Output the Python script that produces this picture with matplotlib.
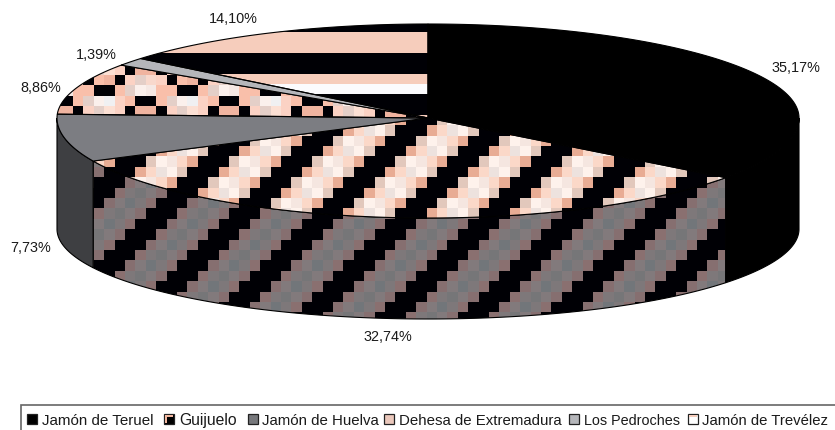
import numpy as np
import matplotlib
matplotlib.use('Agg')
import matplotlib.pyplot as plt
from matplotlib.patches import Polygon, Rectangle

# legend order is also the clockwise order of the slices, starting at 12 o'clock
regions = ['Jamón de Teruel', 'Guijuelo', 'Jamón de Huelva',
           'Dehesa de Extremadura', 'Los Pedroches', 'Jamón de Trevélez']
shares = [35.17, 32.74, 7.73, 8.86, 1.39, 14.10]
share_labels = ['35,17%', '32,74%', '7,73%', '8,86%', '1,39%', '14,10%']

W, H = 835, 430
plt.rcParams['font.family'] = ['Liberation Sans', 'DejaVu Sans']

# pie geometry in pixels
CX, CY = 428, 118
RX = 371
B_BACK, B_FRONT = 94, 100
BOTTOM_Y, BOTTOM_B = 229, 90
CELL = 10.4


def top_edge(a0, a1):
    t = np.radians(np.linspace(a0, a1, 200))
    x = CX + RX * np.sin(t)
    c = np.cos(t)
    y = CY - np.where(c > 0, B_BACK, B_FRONT) * c
    return x, y


def bottom_edge(a0, a1):
    t = np.radians(np.linspace(a0, a1, 200))
    return CX + RX * np.sin(t), BOTTOM_Y - BOTTOM_B * np.cos(t)


def pattern(tile, x0, y0):
    # paint a full size image out of a small pixel tile, like an excel pattern fill
    tile = np.array([[matplotlib.colors.to_rgb(c) for c in row] for row in tile])
    yy, xx = np.mgrid[0:H, 0:W]
    r = ((yy + 0.5 - y0) // CELL).astype(int) % tile.shape[0]
    c = ((xx + 0.5 - x0) // CELL).astype(int) % tile.shape[1]
    return tile[r, c]


def diagonal(even, odd):
    # stripe rising to the right, the jpeg noise changes every other row
    return [[(even if i % 2 == 0 else odd)[(i + j) % 8] for j in range(8)] for i in range(8)]


K = '#000005'
pink_stripe = diagonal(['#E2C8BC', '#FEF2EC', '#F5E6E0', '#FBD8C8', '#E8AC94', K, K, K],
                       ['#E8AC94', '#FBD8C8', '#EDE2DE', '#FEF2EC', '#E2C8BC', K, K, K])
grey_stripe = diagonal(['#866F70', '#827A7C', '#72767A', '#7E787A', '#8A7070', K, K, K],
                       ['#8A7070', '#7E787A', '#767678', '#827A7C', '#866F70', K, K, K])
P, L, D, G, S = '#F9BFAA', '#FBD2C4', '#E4CFC8', '#FBF0EC', '#F0B4A0'
checker = [[L, K, P, S, K, L, D, '#F8D8CC'],
           [P, P, K, K, P, D, G, '#F5E8E4'],
           [P, D, G, '#F0F0F2', L, P, K, K],
           [K, L, D, '#FCE0D4', L, K, S, S]]
P2 = '#F6CDBC'
bars = [[P2], [P2], [K], [K], [P2], ['#FBFBFD'], [K], [K]]

fig = plt.figure(figsize=(W / 100, H / 100), dpi=100)
ax = fig.add_axes([0, 0, 1, 1])
ax.axis('off')

edges = np.cumsum([0] + shares) / sum(shares) * 360

# side walls, only the front half is visible
walls = [(edges[0], edges[1], '#000000', None),
         (edges[1], edges[2], None, grey_stripe),
         (edges[2], edges[3], '#3E3F42', None)]
for a0, a1, color, tile in walls:
    a0 = max(a0, 90)
    a1 = min(a1, 270)
    xt, yt = top_edge(a0, a1)
    xb, yb = bottom_edge(a1, a0)
    pts = np.column_stack([np.r_[xt, xb], np.r_[yt, yb]])
    poly = Polygon(pts, closed=True, fc=color if color else 'none', ec='black', lw=0.8, zorder=2)
    ax.add_patch(poly)
    if tile is not None:
        im = ax.imshow(pattern(tile, 333, 302), extent=(0, W, H, 0), zorder=1.5,
                       interpolation='nearest', aspect='auto')
        im.set_clip_path(poly)

# top faces
faces = ['#000000', pink_stripe, '#7C7D82', checker, '#B5B6BA', bars]
origins = [None, (333, 302), None, (73, 75), None, (428, 32)]
for i, face in enumerate(faces):
    x, y = top_edge(edges[i], edges[i + 1])
    pts = np.column_stack([np.r_[CX, x], np.r_[CY, y]])
    solid = isinstance(face, str)
    poly = Polygon(pts, closed=True, fc=face if solid else 'none', ec='black', lw=0.8, zorder=4)
    ax.add_patch(poly)
    if not solid:
        im = ax.imshow(pattern(face, *origins[i]), extent=(0, W, H, 0), zorder=3.5,
                       interpolation='nearest', aspect='auto')
        im.set_clip_path(poly)

label_xy = [(796, 68), (388, 337), (31, 248), (41, 88), (96, 55), (233, 19)]
for s, (lx, ly) in zip(share_labels, label_xy):
    ax.text(lx, ly, s, ha='center', va='center', fontsize=10.4, color='#1A1A1A')

# legend box runs off the right and bottom of the picture
ax.add_patch(Rectangle((20.5, 405), 830, 40, fc='white', ec='#666666', lw=1.2))
swatches = ['#000000', '#000000', '#77787C', '#EBC8BC', '#B5B6BA', '#FFFFFF']
swatch_x = [27, 164, 248, 384, 569, 688]
text_x = [41.5, 179, 262, 399, 584, 702]
text_size = [10.9, 11.3, 10.8, 10.8, 10.4, 10.7]
for name, color, sx, tx, fs in zip(regions, swatches, swatch_x, text_x, text_size):
    ax.add_patch(Rectangle((sx, 414), 9.5, 9.5, fc=color, ec='#222222', lw=0.9))
    ax.text(tx, 425, name, ha='left', va='baseline', fontsize=fs, color='#1A1A1A')
# guijuelo swatch has the stripe colour peeking out in one corner
ax.add_patch(Rectangle((swatch_x[1] + 1, 415), 7.5, 7.5, fc='#F4B8A0', lw=0))
ax.add_patch(Rectangle((swatch_x[1] + 3, 417), 5.5, 5.5, fc='#000000', lw=0))
ax.add_patch(Rectangle((swatch_x[5] + 1, 415), 7.5, 2, fc='#F6CDBC', lw=0))

ax.set_xlim(0, W)
ax.set_ylim(H, 0)
fig.savefig('out.png', dpi=100)
